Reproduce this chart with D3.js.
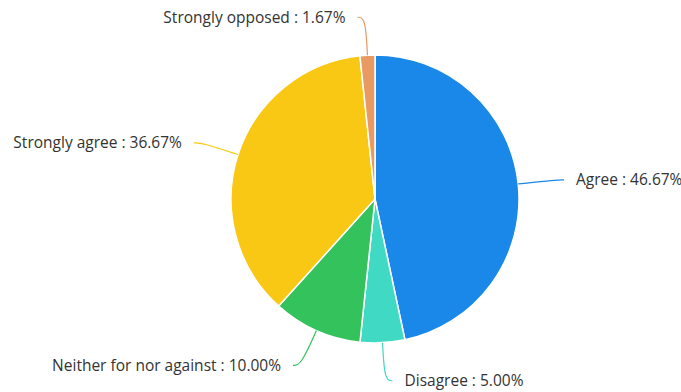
<!DOCTYPE html>
<html>
<head>
<meta charset="utf-8">
<script src="https://cdn.jsdelivr.net/npm/d3@7"></script>
<style>
  body { margin: 0; background: #fff; }
  svg text { font-family: "Open Sans", "Noto Sans", sans-serif; font-size: 15.5px; fill: #333; }
</style>
</head>
<body>
<div id="chart"></div>
<script>
// data
var categories = ["Agree", "Disagree", "Neither for nor against", "Strongly agree", "Strongly opposed"];
var values = [46.67, 5.00, 10.00, 36.67, 1.67];
var colors = ["#1a88e8", "#40d9c4", "#33c25b", "#f9c815", "#e89a62"];

var width = 681, height = 392;
var cx = 375, cy = 199, radius = 144;

var svg = d3.select("#chart").append("svg")
    .attr("width", width)
    .attr("height", height);

var data = categories.map((c, i) => ({name: c, value: values[i], color: colors[i]}));

var pie = d3.pie().sort(null).value(d => d.value);
var arcs = pie(data);

var arc = d3.arc().innerRadius(0).outerRadius(radius);

var g = svg.append("g").attr("transform", "translate(" + cx + "," + cy + ")");

g.selectAll("path.slice")
    .data(arcs)
    .join("path")
    .attr("class", "slice")
    .attr("d", arc)
    .attr("fill", d => d.data.color)
    .attr("stroke", "#fff")
    .attr("stroke-width", 1.5);

// label lines: radial part then a short horizontal part, smoothed
var len1 = 38, len2 = 8, gap = 12;
function pt(a, r) { return [Math.sin(a) * r, -Math.cos(a) * r]; }

var lineGen = d3.line().curve(d3.curveBasis);

arcs.forEach(d => {
    var mid = (d.startAngle + d.endAngle) / 2;
    var p0 = pt(mid, radius);
    var p1 = pt(mid, radius + len1);
    var right = Math.sin(mid) >= 0;
    var p2 = [p1[0] + (right ? len2 : -len2), p1[1]];
    g.append("path")
        .attr("d", lineGen([p0, p1, p2]))
        .attr("fill", "none")
        .attr("stroke", d.data.color)
        .attr("stroke-width", 1.2);
    g.append("text")
        .attr("x", p2[0] + (right ? gap : -gap))
        .attr("y", p2[1])
        .attr("dy", "0.35em")
        .attr("text-anchor", right ? "start" : "end")
        .text(d.data.name + " : " + d3.format(".2f")(d.data.value) + "%");
});
</script>
</body>
</html>
